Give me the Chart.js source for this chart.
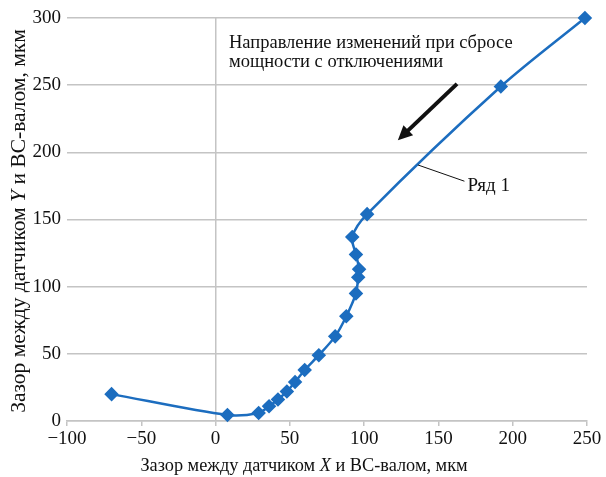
<!DOCTYPE html>
<html>
<head>
<meta charset="utf-8">
<script src="https://cdn.jsdelivr.net/npm/chart.js@4/dist/chart.umd.min.js"></script>
<style>
  html, body { margin: 0; padding: 0; background: #fff; }
  #wrap { width: 606px; height: 477px; position: relative; }
</style>
</head>
<body>
<div id="wrap"><canvas id="chart"></canvas></div>
<script>
// зазор по X и по Y, мкм (Ряд 1)
const gapX = [-70, 8, 29, 36, 42, 48, 53.5, 60, 69.5, 80.5, 88, 94.5, 96, 96.6, 94.5, 92, 102, 192, 248.6];
const gapY = [20, 4.5, 6, 11, 16, 22, 29, 38, 49, 63, 78, 95, 107, 113, 124, 137, 154, 249, 300];
const seriesName = 'Ряд 1';

const xTicks = [-100, -50, 0, 50, 100, 150, 200, 250];
const yTicks = [0, 50, 100, 150, 200, 250, 300];

const xTitle = ['Зазор между датчиком ', 'X', ' и ВС-валом, мкм'];
const yTitle = ['Зазор между датчиком ', 'Y', ' и ВС-валом, мкм'];
const noteLines = ['Направление изменений при сбросе', 'мощности с отключениями'];

const FONT = '"Liberation Serif", "Times New Roman", serif';
const GRID = '#c4c4c4';
const BLUE = '#1c6dbf';

// подпись из частей, средняя часть курсивом
function drawMixed(ctx, parts, size) {
  const fonts = parts.map((p, i) => (i === 1 ? 'italic ' : '') + size + 'px ' + FONT);
  let w = 0;
  const widths = parts.map((p, i) => { ctx.font = fonts[i]; const m = ctx.measureText(p).width; w += m; return m; });
  let x = -w / 2;
  parts.forEach((p, i) => {
    ctx.font = fonts[i];
    ctx.fillText(p, x, 0);
    x += widths[i];
  });
}

const extras = {
  id: 'extras',
  afterDraw(chart) {
    const ctx = chart.ctx;
    const xs = chart.scales.x, ys = chart.scales.y;
    ctx.save();
    ctx.fillStyle = '#111';
    ctx.textBaseline = 'middle';
    ctx.textAlign = 'left';

    // заголовок оси X
    ctx.save();
    ctx.translate(304, 466);
    drawMixed(ctx, xTitle, 18.3);
    ctx.restore();

    // заголовок оси Y
    ctx.save();
    ctx.translate(19, 221);
    ctx.rotate(-Math.PI / 2);
    drawMixed(ctx, yTitle, 21.5);
    ctx.restore();

    // пояснение
    ctx.font = '18.5px ' + FONT;
    ctx.fillText(noteLines[0], xs.getPixelForValue(9), ys.getPixelForValue(281));
    ctx.fillText(noteLines[1], xs.getPixelForValue(9), ys.getPixelForValue(267.5));

    // стрелка направления
    const x1 = xs.getPixelForValue(162.5), y1 = ys.getPixelForValue(251);
    const x2 = xs.getPixelForValue(122.7), y2 = ys.getPixelForValue(209);
    const ang = Math.atan2(y2 - y1, x2 - x1);
    const head = 16;
    ctx.strokeStyle = '#111';
    ctx.lineWidth = 4;
    ctx.beginPath();
    ctx.moveTo(x1, y1);
    ctx.lineTo(x2 - Math.cos(ang) * head * 0.8, y2 - Math.sin(ang) * head * 0.8);
    ctx.stroke();
    ctx.beginPath();
    ctx.moveTo(x2, y2);
    ctx.lineTo(x2 - head * Math.cos(ang - 0.45), y2 - head * Math.sin(ang - 0.45));
    ctx.lineTo(x2 - head * Math.cos(ang + 0.45), y2 - head * Math.sin(ang + 0.45));
    ctx.closePath();
    ctx.fill();

    // выноска с именем ряда
    ctx.lineWidth = 1;
    ctx.beginPath();
    ctx.moveTo(xs.getPixelForValue(136.2), ys.getPixelForValue(190.6));
    ctx.lineTo(xs.getPixelForValue(167.5), ys.getPixelForValue(178.5));
    ctx.stroke();
    ctx.font = '19px ' + FONT;
    ctx.fillText(seriesName, xs.getPixelForValue(169.5), ys.getPixelForValue(175));
    ctx.restore();
  }
};

const points = gapX.map((x, i) => ({ x: x, y: gapY[i] }));

new Chart(document.getElementById('chart'), {
  type: 'scatter',
  data: {
    datasets: [{
      label: seriesName,
      data: points,
      showLine: true,
      clip: false,
      tension: 0.3,
      borderColor: BLUE,
      backgroundColor: BLUE,
      borderWidth: 2.5,
      pointStyle: 'rectRot',
      pointRadius: 5.5,
      pointHoverRadius: 5.5
    }]
  },
  options: {
    responsive: true,
    maintainAspectRatio: false,
    animation: false,
    layout: { padding: { top: 18, right: 19, left: 0, bottom: 0 } },
    plugins: { legend: { display: false }, tooltip: { enabled: false } },
    scales: {
      x: {
        type: 'linear',
        min: -100,
        max: 250,
        afterBuildTicks: (axis) => { axis.ticks = xTicks.map(v => ({ value: v })); },
        afterFit: (axis) => { axis.height = 56; },
        border: { display: true, color: GRID, width: 1.5 },
        grid: {
          color: (c) => (c.tick && c.tick.value === 0 ? GRID : 'rgba(0,0,0,0)'),
          lineWidth: 1.5,
          drawTicks: true,
          tickLength: 5,
          tickColor: GRID
        },
        ticks: {
          color: '#111',
          padding: 2,
          maxRotation: 0,
          font: { family: FONT, size: 19 },
          callback: (v) => (v < 0 ? '\u2212' + Math.abs(v) : String(v))
        }
      },
      y: {
        type: 'linear',
        min: 0,
        max: 300,
        afterBuildTicks: (axis) => { axis.ticks = yTicks.map(v => ({ value: v })); },
        afterFit: (axis) => { axis.width = 67; },
        border: { display: false },
        grid: { color: GRID, lineWidth: 1.5, drawTicks: false },
        ticks: {
          color: '#111',
          padding: 6,
          font: { family: FONT, size: 19 }
        }
      }
    }
  },
  plugins: [extras]
});
</script>
</body>
</html>
